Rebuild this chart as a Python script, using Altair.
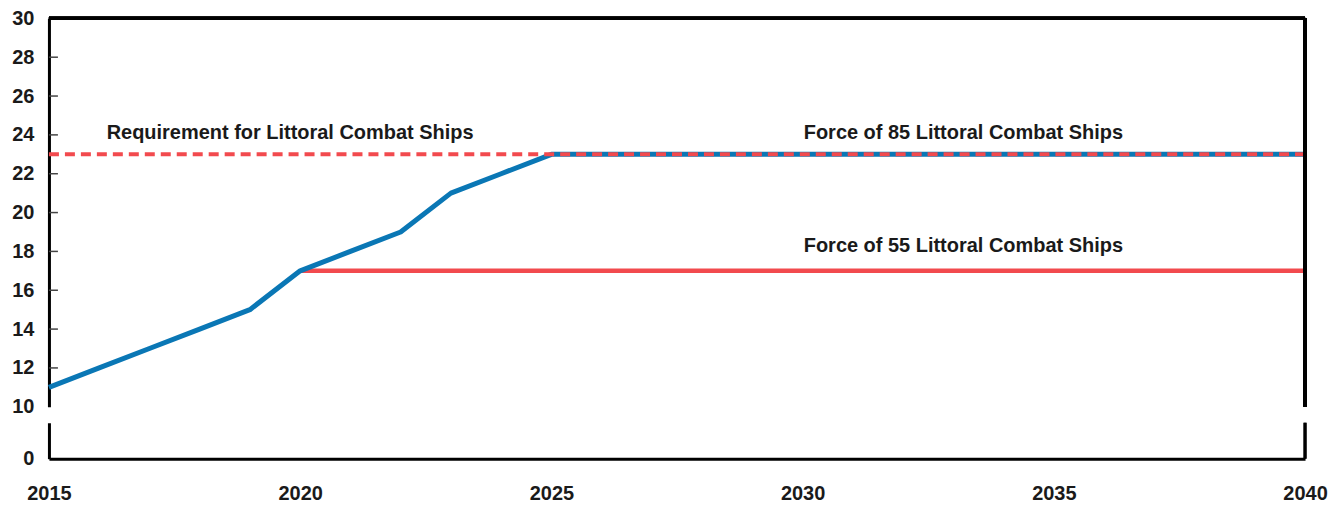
import altair as alt
import pandas as pd

# ---- data ----
years = [2015, 2016, 2017, 2018, 2019, 2020, 2021, 2022, 2023, 2024, 2025, 2040]
ships = [11, 12, 13, 14, 15, 17, 18, 19, 21, 22, 23, 23]

req_years = [2015, 2040]
req_values = [23, 23]

f55_years = [2020, 2040]
f55_values = [17, 17]

label_texts = ["Requirement for Littoral Combat Ships",
               "Force of 85 Littoral Combat Ships",
               "Force of 55 Littoral Combat Ships"]
label_x = [2019.8, 2033.2, 2033.2]
label_y = [24.1, 24.1, 18.3]

y_ticks = [12, 14, 16, 18, 20, 22, 24, 26, 28]
y_labels = [10, 12, 14, 16, 18, 20, 22, 24, 26, 28, 30]
x_labels = [2015, 2020, 2025, 2030, 2035, 2040]

BLUE = "#0A77B5"
RED = "#F24A4E"
FONT = "Liberation Sans"
TXT = "#1a1a1a"
W = 1258
H_TOP = 389
H_BOT = 36

blue_df = pd.DataFrame({"year": years, "ships": ships})
req_df = pd.DataFrame({"year": req_years, "ships": req_values})
f55_df = pd.DataFrame({"year": f55_years, "ships": f55_values})
lab_df = pd.DataFrame({"year": label_x, "ships": label_y, "text": label_texts})
tick_df = pd.DataFrame({"ships": y_ticks})

xscale = alt.Scale(domain=[2015, 2040], nice=False, zero=False)
yscale = alt.Scale(domain=[10, 30], nice=False, zero=False)

x_hidden = alt.X("year:Q", scale=xscale, axis=None)

y_axis_top = alt.Axis(values=y_labels, ticks=False, grid=False, labelPadding=15,
                      labelOverlap=False, labelBound=False, labelFlush=False,
                      domainColor="black", domainWidth=3, labelFont=FONT,
                      labelFontSize=20, labelFontWeight="bold", labelColor=TXT,
                      minExtent=41, maxExtent=41, title=None)


def Y():
    return alt.Y("ships:Q", scale=yscale, axis=y_axis_top)


blue = alt.Chart(blue_df).mark_line(color=BLUE, strokeWidth=5, strokeJoin="round").encode(
    x=x_hidden, y=Y())

f55 = alt.Chart(f55_df).mark_line(color=RED, strokeWidth=4.5).encode(
    x=x_hidden, y=Y())

req = alt.Chart(req_df).mark_line(color=RED, strokeWidth=4, strokeDash=[10, 6]).encode(
    x=x_hidden, y=Y())

ticks = alt.Chart(tick_df).mark_rule(color="#444444", strokeWidth=1.5).encode(
    x=alt.value(0), x2=alt.value(9), y=Y())

texts = alt.Chart(lab_df).mark_text(font=FONT, fontSize=20, fontWeight="bold",
                                    color=TXT, align="center", baseline="middle").encode(
    x=x_hidden, y=Y(), text="text:N")

top_line = alt.Chart(tick_df).mark_rule(color="black", strokeWidth=3).encode(
    x=alt.value(0), x2=alt.value(W), y=alt.value(0))
right_line = alt.Chart(tick_df).mark_rule(color="black", strokeWidth=3).encode(
    x=alt.value(W), y=alt.value(0), y2=alt.value(H_TOP))

top = alt.layer(f55, blue, req, ticks, texts, top_line, right_line).properties(
    width=W, height=H_TOP)

# bottom panel (broken axis: only 0)
zero_df = pd.DataFrame({"year": [2015, 2040], "ships": [0, 0]})
bot_axis_y = alt.Axis(values=[0], ticks=False, grid=False, labelPadding=15,
                      labelFlush=False,
                      domainColor="black", domainWidth=3, labelFont=FONT,
                      labelFontSize=20, labelFontWeight="bold", labelColor=TXT,
                      minExtent=41, maxExtent=41, title=None)
bot_axis_x = alt.Axis(values=x_labels, format="d", ticks=False, grid=False,
                      labelPadding=25, labelOverlap=False, labelFlush=False,
                      labelBound=False,
                      domainColor="black", domainWidth=3,
                      labelFont=FONT, labelFontSize=20, labelFontWeight="bold",
                      labelColor=TXT, title=None)

bot = alt.Chart(zero_df).mark_point(opacity=0).encode(
    x=alt.X("year:Q", scale=xscale, axis=bot_axis_x),
    y=alt.Y("ships:Q", scale=alt.Scale(domain=[0, 1], nice=False), axis=bot_axis_y))
bot_right = alt.Chart(zero_df).mark_rule(color="black", strokeWidth=3).encode(
    x=alt.value(W), y=alt.value(0), y2=alt.value(H_BOT))

bottom = alt.layer(bot, bot_right).properties(width=W, height=H_BOT)

chart = alt.vconcat(top, bottom, spacing=4).properties(
    padding={"left": 0, "top": 0, "right": 5, "bottom": 0},
    background="white"
).configure_view(stroke=None)

chart.save("out.html", embed_options={"renderer": "svg", "actions": False})
